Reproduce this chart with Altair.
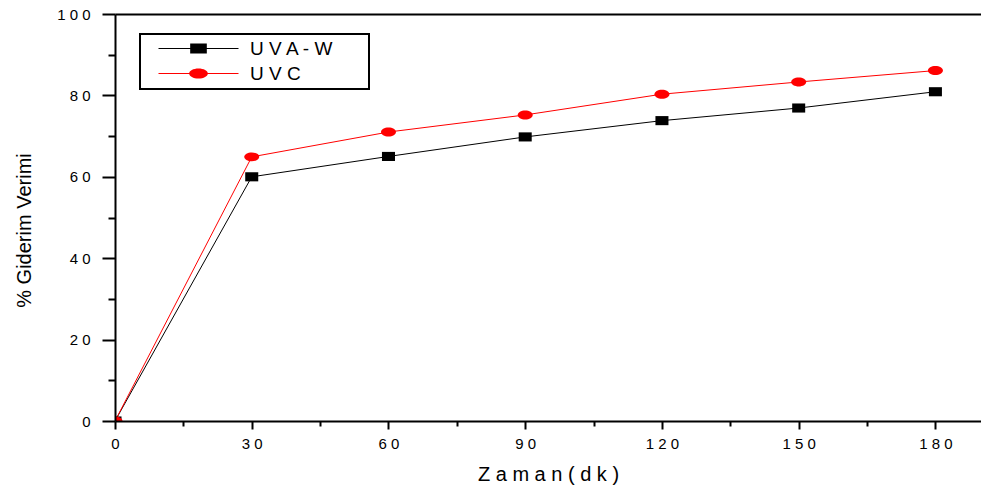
import altair as alt
import pandas as pd

# ---- data ----
time_min = [0, 30, 60, 90, 120, 150, 180]
uvaw = [0.0, 60.0, 65.0, 69.8, 73.8, 76.9, 80.9]
uvc = [0.0, 64.9, 71.0, 75.2, 80.3, 83.3, 86.1]
series_names = ["UVA-W", "UVC"]
series_colors = ["#000000", "#ff0000"]
x_major = [0, 30, 60, 90, 120, 150, 180]
x_minor = [15, 45, 75, 105, 135, 165]
y_major = [0, 20, 40, 60, 80, 100]
y_minor = [10, 30, 50, 70, 90]
x_title = "Z a m a n ( d k )"
y_title = "% Giderim Verimi"

rows = []
for name, vals in zip(series_names, [uvaw, uvc]):
    for t, v in zip(time_min, vals):
        rows.append({"t": t, "v": v, "series": name})
df = pd.DataFrame(rows)

FONT = "Liberation Sans"
# marker shapes (flattened square and ellipse)
SQ = "M-0.93,-0.65L0.93,-0.65L0.93,0.65L-0.93,0.65Z"
EL = "M-1.07,0A1.07,0.64,0,1,1,1.07,0A1.07,0.64,0,1,1,-1.07,0Z"
# legend symbols: thin filled bar (the line) through the marker
BAR = "M-5,-0.0625L5,-0.0625L5,0.0625L-5,0.0625Z"
LSQ = "M20.6,0" + BAR + "M-1.04,-0.63L1.04,-0.63L1.04,0.63L-1.04,0.63Z"
LEL = "M20.6,0" + BAR + "M-1.17,0A1.17,0.63,0,1,1,1.17,0A1.17,0.63,0,1,1,-1.17,0Z"


def xs():
    return alt.Scale(domain=[0, 190], nice=False, zero=False)


def ys():
    return alt.Scale(domain=[0, 100], nice=False, zero=False)


def cs():
    return alt.Scale(domain=series_names, range=series_colors)


spaced = "join(split(datum.label, ''), ' ')"

base = alt.Chart(df)

lines = base.mark_line(strokeWidth=1, clip=True).encode(
    x=alt.X("t:Q", scale=xs(), axis=alt.Axis(
        orient="bottom", values=x_major, tickSize=8, tickWidth=2, domainWidth=2,
        labelPadding=7, labelFontSize=15, labelExpr=spaced, labelFlush=False,
        title=x_title, titleFontSize=20, titleX=433, titleY=59,
        titleAlign="center", titleBaseline="alphabetic", zindex=1)),
    y=alt.Y("v:Q", scale=ys(), axis=alt.Axis(
        orient="left", values=y_major, tickSize=13, tickWidth=2, domainWidth=2,
        labelPadding=12, labelFontSize=15, labelExpr=spaced, labelFlush=False,
        labelBaseline="middle",
        title=y_title, titleFontSize=20, titleX=-85, titleY=216, titleAngle=-90,
        titleAlign="center", titleBaseline="alphabetic", zindex=1)),
    color=alt.Color("series:N", scale=cs(), legend=None),
    detail="series:N",
)

points = base.mark_point(filled=True, size=196, opacity=1, clip=True).encode(
    x=alt.X("t:Q", scale=xs(), axis=None),
    y=alt.Y("v:Q", scale=ys(), axis=None),
    color=alt.Color("series:N", scale=cs(), legend=None),
    shape=alt.Shape("series:N", scale=alt.Scale(domain=series_names, range=[SQ, EL]), legend=None),
)

leg = alt.Legend(
    orient="none", legendX=25, legendY=20, direction="vertical", title=None,
    strokeColor="black", padding=5, symbolOffset=44, labelOffset=42, rowPadding=5,
    labelFontSize=19, labelFont=FONT, labelColor="black", symbolSize=256,
    symbolStrokeWidth=0, labelExpr=spaced,
)

legend_layer = base.transform_filter("false").mark_point(
    filled=True, size=256, opacity=1).encode(
    x=alt.X("t:Q", scale=xs(), axis=None),
    y=alt.Y("v:Q", scale=ys(), axis=None),
    color=alt.Color("series:N", scale=cs(), legend=leg),
    shape=alt.Shape("series:N", scale=alt.Scale(domain=series_names, range=[LSQ, LEL]), legend=leg),
)

minor_axes = base.transform_filter("false").mark_point().encode(
    x=alt.X("t:Q", scale=xs(), axis=alt.Axis(
        orient="bottom", values=x_minor, tickSize=5, tickWidth=2, domain=False,
        labels=False, title=None, zindex=1)),
    y=alt.Y("v:Q", scale=ys(), axis=alt.Axis(
        orient="left", values=y_minor, tickSize=7, tickWidth=2, domain=False,
        labels=False, title=None, zindex=1)),
)

top_axis = base.transform_filter("false").mark_point().encode(
    x=alt.X("t:Q", scale=xs(), axis=alt.Axis(
        orient="top", ticks=False, labels=False, domain=True, domainWidth=2,
        title=None, zindex=1)),
    y=alt.Y("v:Q", scale=ys(), axis=None),
)

chart = alt.layer(lines, points, legend_layer, minor_axes, top_axis).resolve_scale(
    x="independent", y="independent", shape="independent", color="independent"
).properties(
    width=866, height=407,
    padding={"left": 115, "top": 14, "right": 0, "bottom": 73},
    autosize=alt.AutoSizeParams(type="none"),
    background="white",
).configure_view(stroke=None).configure_axis(
    grid=False, labelFont=FONT, titleFont=FONT, domainColor="black",
    tickColor="black", labelColor="black", titleColor="black",
    titleFontWeight="normal",
).configure_legend(strokeWidth=2)

chart.save("out.html", embed_options={"renderer": "svg", "actions": False})
